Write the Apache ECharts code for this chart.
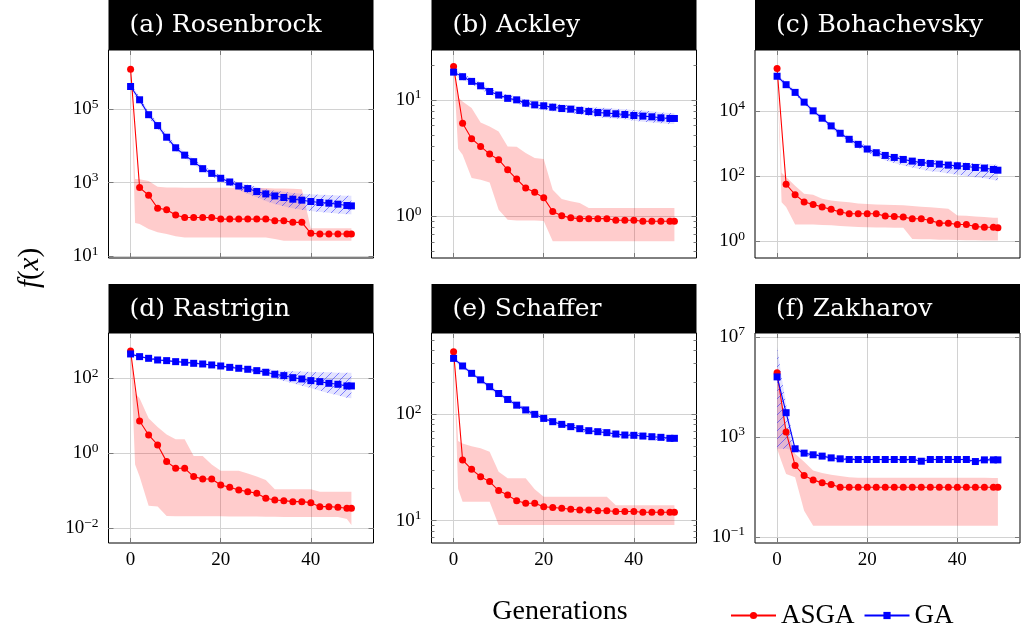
<!DOCTYPE html>
<html><head><meta charset="utf-8">
<script src="https://cdn.jsdelivr.net/npm/echarts@6/dist/echarts.min.js"></script>
<style>html,body{margin:0;padding:0;background:#fff}#c{width:1023px;height:630px}</style>
</head><body><div id="c"></div><script>
// ---------------- data ----------------
const generations = [0,2,4,6,8,10,12,14,16,18,20,22,24,26,28,30,32,34,36,38,40,42,44,46,48,49];
const bandGenerations = [0,1,2,4,6,8,10,12,14,16,18,20,22,24,26,28,30,32,34,36,38,40,42,44,46,48,49];
const xTickValues = [0,20,40];

// (a) Rosenbrock
const asgaRosenbrock = [1.2e6,733,454,202,182,131,113,113,113,112,102,102,102,102,102,102,91.6,91.6,83,83,41.9,40.1,40.1,40.1,40.1,40.1];
const gaRosenbrock = [4.08e5,1.78e5,7.0e4,3.54e4,1.71e4,8830,5570,3700,2390,1780,1310,1040,809,689,571,492,434,394,354,333,306,288,276,259,239,233];
const asgaLowRosenbrock = [1.2e6,79.4,74.6,54.7,44.7,39.8,34.7,32.4,32.4,32.4,32.4,32.4,32.4,32.4,32.4,32.4,32.4,29.3,26.3,26.3,26.3,26.3,26.3,26.3,26.3,26.3,26.3];
const asgaHighRosenbrock = [1.2e6,1260,1230,1100,776,741,741,724,724,724,724,724,724,724,708,708,708,692,692,676,661,57.5,57.5,57.5,57.5,57.5,57.5];
const gaLowRosenbrock = [3.31e5,2.24e5,1.48e5,5.89e4,2.95e4,1.45e4,7410,4680,3090,2000,1480,1070,832,631,501,398,316,263,229,200,182,170,158,151,145,138,138];
const gaHighRosenbrock = [5.0e5,3.16e5,2.14e5,8.5e4,4.27e4,2.04e4,1.07e4,6760,4470,2880,2140,1580,1260,1000,871,759,661,603,562,525,501,479,468,457,447,437,437];
const yTicksRosenbrock = [1e1,1e3,1e5];

// (b) Ackley
const asgaAckley = [19.3,6.3,4.63,3.98,3.42,3.06,2.51,2.09,1.75,1.61,1.44,1.10,1.01,0.97,0.955,0.955,0.955,0.955,0.925,0.925,0.925,0.906,0.906,0.906,0.906,0.906];
const gaAckley = [17.3,15.8,14.4,13.2,11.8,11.0,10.3,10.0,9.36,9.06,8.89,8.65,8.43,8.32,8.11,7.94,7.79,7.69,7.59,7.49,7.34,7.25,7.15,7.01,6.92,6.92];
const asgaLowAckley = [19.3,3.8,3.38,2.13,2.06,1.95,1.14,0.935,0.92,0.92,0.92,0.91,0.61,0.61,0.61,0.61,0.61,0.61,0.61,0.61,0.61,0.61,0.61,0.61,0.61,0.61,0.61];
const asgaHighAckley = [19.3,10.5,9.7,8.5,6.4,5.9,5.35,3.98,3.95,3.49,3.16,3.1,1.69,1.41,1.35,1.3,1.18,1.18,1.18,1.18,1.18,1.18,1.18,1.18,1.18,1.18,1.18];
const gaLowAckley = [16.4,15.7,14.9,13.6,12.4,11.1,10.4,9.7,9.4,8.7,8.4,8.2,8.0,7.8,7.7,7.5,7.3,7.1,7.0,6.9,6.8,6.6,6.5,6.4,6.3,6.2,6.2];
const gaHighAckley = [18.3,17.5,16.8,15.3,14.0,12.5,11.7,11.0,10.7,10.0,9.7,9.5,9.3,9.1,9.0,8.8,8.7,8.6,8.5,8.4,8.3,8.2,8.1,8.0,7.8,7.7,7.7];
const yTicksAckley = [1,10];

// (c) Bohachevsky
const asgaBohachevsky = [1.98e5,56,26.9,16,13.5,11.2,9.5,7.85,6.97,6.97,6.97,6.97,5.9,5.77,5.5,4.89,4.89,4.34,3.59,3.59,3.27,3.27,2.83,2.7,2.7,2.58];
const gaBohachevsky = [1.15e5,6.34e4,3.68e4,1.85e4,1.0e4,5940,3450,2050,1340,937,673,519,429,372,323,287,261,243,232,216,206,196,183,175,159,151];
const asgaLowBohachevsky = [1.98e5,15.8,11.2,3.27,3.27,3.27,3.16,3.09,2.95,2.82,2.75,2.7,2.66,2.63,2.6,2.58,1.18,1.16,1.15,1.12,1.11,1.1,1.08,1.07,1.06,1.05,1.05];
const asgaHighBohachevsky = [1.98e5,126,94.2,50.1,28.8,26.9,20,17.8,16.6,15.8,14.5,13.8,13.5,13.2,12.9,12.6,12.0,11.5,11.0,10.5,10.0,6.17,6.03,5.75,5.5,5.25,5.25];
const gaLowBohachevsky = [1.0e5,7.59e4,5.5e4,3.16e4,1.58e4,8510,5010,2880,1700,1100,741,525,398,302,251,209,182,158,141,132,120,110,100,91.2,85.1,75.9,72.4];
const gaHighBohachevsky = [1.32e5,1.0e5,7.41e4,4.27e4,2.14e4,1.15e4,6920,3980,2400,1580,1120,813,631,525,457,398,355,331,309,295,282,269,257,245,234,224,219];
const yTicksBohachevsky = [1,1e2,1e4];

// (d) Rastrigin
const asgaRastrigin = [536,7.28,3.08,1.67,0.6,0.398,0.398,0.239,0.207,0.207,0.143,0.124,0.105,0.095,0.0858,0.063,0.057,0.0547,0.0514,0.0514,0.0483,0.0378,0.0378,0.0363,0.0341,0.0341];
const gaRastrigin = [446,378,341,308,296,278,267,251,241,227,213,196,185,174,160,145,128,118,104,96,86.7,81.5,73.6,69.2,62.5,62.5];
const asgaLowRastrigin = [536,0.5,0.24,0.0398,0.038,0.0214,0.0209,0.0209,0.0209,0.0209,0.0209,0.0209,0.0205,0.0205,0.0205,0.0205,0.0204,0.0204,0.02,0.02,0.02,0.02,0.02,0.02,0.02,0.0178,0.0123];
const asgaHighRastrigin = [536,39.8,29.3,8.57,5.01,3.16,2.36,2.36,0.849,0.849,0.501,0.345,0.345,0.345,0.288,0.24,0.195,0.11,0.11,0.11,0.11,0.11,0.095,0.095,0.095,0.095,0.095];
const gaLowRastrigin = [407,380,355,316,288,275,263,251,234,224,209,200,182,170,158,141,120,100,85.1,74.1,63.1,55,46.8,39.8,35.5,30.2,29.5];
const gaHighRastrigin = [490,447,407,363,331,316,295,288,269,257,245,229,214,204,191,182,174,166,158,155,151,148,145,145,141,141,141];
const yTicksRastrigin = [1e-2,1,1e2];

// (e) Schaffer
const asgaSchaffer = [388,37.2,30.4,25.9,23.3,19.2,17.4,15.4,14.6,14.6,13.5,13.3,13.1,12.8,12.6,12.6,12.4,12.4,12.2,12.2,12.2,12.0,12.0,12.0,12.0,12.0];
const gaSchaffer = [336,285,243,211,182,157,138,122,110,100,91.6,85.3,80.5,76.6,73.3,70.2,68.7,67.3,65.3,63.9,63.5,62.5,61.6,60.8,59.5,59.5];
const asgaLowSchaffer = [388,20,15.1,15.1,15.1,15.1,9.1,9.1,9.1,9.1,9.1,9.1,9.1,9.1,9.1,9.1,9.1,9.1,9.1,9.1,9.1,9.1,9.1,9.1,9.1,9.1,9.1];
const asgaHighSchaffer = [388,56.2,53.3,50.1,47.9,44.6,28.8,25,25,25,19.7,16.8,16.8,16.8,16.8,16.8,16.8,16.8,16.8,14.0,14.0,14.0,14.0,14.0,14.0,14.0,14.0];
const gaLowSchaffer = [320,295,272,232,201,173,149,131,116,104,95,87,80.5,76,72,69,66,64.5,63,61,60,59.5,58.5,57.5,56.5,55.5,55.5];
const gaHighSchaffer = [352,325,298,254,221,191,165,145,128,116,105,96.5,90,85,81,77.5,74.5,73,71.5,69.5,68,67.5,66.5,65.5,65,63.5,63.5];
const yTicksSchaffer = [10,100];

// (f) Zakharov
const asgaZakharov = [3.59e5,1540,70.8,28.1,18.8,14.3,12.2,9.55,9.55,9.55,9.55,9.55,9.55,9.55,9.55,9.55,9.55,9.55,9.55,9.55,9.55,9.55,9.55,9.55,9.55,9.55];
const gaZakharov = [2.48e5,9180,330,221,190,168,143,131,123,123,123,123,123,123,123,123,105,123,123,123,123,123,102,119,119,119];
const asgaLowZakharov = [331,100,32.7,24,1.1,0.275,0.275,0.275,0.275,0.275,0.275,0.275,0.275,0.275,0.275,0.275,0.275,0.275,0.275,0.275,0.275,0.275,0.275,0.275,0.275,0.275,0.275];
const asgaHighZakharov = [3.98e5,2.51e4,2510,209,100,44.7,35.5,30.2,26.9,24,23,23,23,23,23,23,23,23,23,23,23,23,23,23,23,22.4,22.4];
const gaLowZakharov = [331,331,331,275,186,158,141,120,110,105,105,105,105,105,105,105,105,89.1,105,105,105,105,105,85.1,100,100,100];
const gaHighZakharov = [3.98e6,2.51e5,2.0e4,398,263,224,200,170,155,145,145,145,145,145,145,145,145,126,145,145,145,145,145,123,141,141,141];
const yTicksZakharov = [1e-1,1e3,1e7];

// ---------------- layout / style ----------------
const COL_LEFT = [108.5, 431.5, 755];
const PANEL_W = 265;
const ROW_TOP = [50, 333];
const ROW_H = [208, 210];
const TITLE_TOP = [0, 284];
const X_MIN = -4.9, X_MAX = 53.9;
const GRID_COLOR = '#d2d2d2', TICK_COLOR = '#7a7a7a';
const SERIF = 'Liberation Serif';

const panels = [
  {title:'(a) Rosenbrock', asga:asgaRosenbrock, ga:gaRosenbrock, asgaLo:asgaLowRosenbrock, asgaHi:asgaHighRosenbrock, gaLo:gaLowRosenbrock, gaHi:gaHighRosenbrock, ticks:yTicksRosenbrock, range:[0.951,6.603], minor:false},
  {title:'(b) Ackley', asga:asgaAckley, ga:gaAckley, asgaLo:asgaLowAckley, asgaHi:asgaHighAckley, gaLo:gaLowAckley, gaHi:gaHighAckley, ticks:yTicksAckley, range:[-0.358,1.428], minor:true},
  {title:'(c) Bohachevsky', asga:asgaBohachevsky, ga:gaBohachevsky, asgaLo:asgaLowBohachevsky, asgaHi:asgaHighBohachevsky, gaLo:gaLowBohachevsky, gaHi:gaHighBohachevsky, ticks:yTicksBohachevsky, range:[-0.514,5.866], minor:false},
  {title:'(d) Rastrigin', asga:asgaRastrigin, ga:gaRastrigin, asgaLo:asgaLowRastrigin, asgaHi:asgaHighRastrigin, gaLo:gaLowRastrigin, gaHi:gaHighRastrigin, ticks:yTicksRastrigin, range:[-2.392,3.208], minor:false},
  {title:'(e) Schaffer', asga:asgaSchaffer, ga:gaSchaffer, asgaLo:asgaLowSchaffer, asgaHi:asgaHighSchaffer, gaLo:gaLowSchaffer, gaHi:gaHighSchaffer, ticks:yTicksSchaffer, range:[0.79,2.765], minor:true},
  {title:'(f) Zakharov', asga:asgaZakharov, ga:gaZakharov, asgaLo:asgaLowZakharov, asgaHi:asgaHighZakharov, gaLo:gaLowZakharov, gaHi:gaHighZakharov, ticks:yTicksZakharov, range:[-1.25,7.15], minor:false}
];

// hatch pattern (north east lines)
const pc = document.createElement('canvas');
pc.width = 8; pc.height = 8;
const g2 = pc.getContext('2d');
g2.fillStyle = 'rgba(40,40,255,0.13)'; g2.fillRect(0,0,8,8);
g2.strokeStyle = 'rgba(40,40,255,0.55)'; g2.lineWidth = 1;
g2.beginPath(); g2.moveTo(0,8); g2.lineTo(8,0); g2.moveTo(-2,2); g2.lineTo(2,-2); g2.moveTo(6,10); g2.lineTo(10,6); g2.stroke();
const HATCH = {image: pc, repeat: 'repeat'};
const PINK = 'rgba(255,0,0,0.2)';

const L = Math.log10;
function expLabel(v){
  const e = Math.round(v);
  return '{b|10}{s|' + (e < 0 ? '\u2212' + (-e) : e) + '}';
}
function minorTicks(range){
  const out = [];
  for (let d = Math.floor(range[0]) - 1; d <= Math.ceil(range[1]); d++) {
    for (let k = 2; k <= 9; k++) { const v = d + L(k); if (v > range[0] && v < range[1]) out.push(v); }
  }
  return out;
}
function bandSeries(name, xi, yi, lo, hi, fill){
  return {
    type:'custom', name:name, xAxisIndex:xi, yAxisIndex:yi, silent:true,
    data: bandGenerations.map((x,k)=>[x, L(lo[k]), L(hi[k])]),
    encode:{x:0, y:[1,2]},
    renderItem: function(params, api){
      if (params.dataIndex !== 0) return null;
      const pts = [];
      for (let k = 0; k < bandGenerations.length; k++) pts.push(api.coord([bandGenerations[k], L(hi[k])]));
      for (let k = bandGenerations.length - 1; k >= 0; k--) pts.push(api.coord([bandGenerations[k], L(lo[k])]));
      return {type:'polygon', shape:{points:pts}, style:{fill:fill, stroke:null}};
    }
  };
}

const grids = [], xAxes = [], yAxes = [], series = [], graphics = [];
panels.forEach((p, i) => {
  const row = Math.floor(i / 3), col = i % 3;
  const left = COL_LEFT[col], top = ROW_TOP[row], h = ROW_H[row];
  grids.push({left:left, top:top, width:PANEL_W, height:h, show:true, borderColor:'#000', borderWidth:1, backgroundColor:'transparent', containLabel:false, outerBoundsMode:'none'});
  const tickStyle = {color:TICK_COLOR, width:1};
  const xi = xAxes.length;
  xAxes.push({gridIndex:i, type:'value', min:X_MIN, max:X_MAX, position:'bottom',
    axisLine:{show:false, onZero:false},
    axisTick:{show:true, inside:true, length:5, lineStyle:tickStyle, customValues:xTickValues},
    axisLabel:{show: row === 1, customValues:xTickValues, margin:8, color:'#000', fontFamily:SERIF, fontSize:19},
    splitLine:{show:true, lineStyle:{color:GRID_COLOR, width:1}}});
  xAxes.push({gridIndex:i, type:'value', min:X_MIN, max:X_MAX, position:'top',
    axisLine:{show:false, onZero:false},
    axisTick:{show:true, inside:true, length:5, lineStyle:tickStyle, customValues:xTickValues},
    axisLabel:{show:false}, splitLine:{show:false}});
  const majors = p.ticks.map(L);
  const yi = yAxes.length;
  yAxes.push({gridIndex:i, type:'value', min:p.range[0], max:p.range[1], position:'left',
    axisLine:{show:false, onZero:false},
    axisTick:{show:true, inside:true, length:5, lineStyle:tickStyle, customValues:majors},
    axisLabel:{show:true, customValues:majors, margin:10, formatter:expLabel,
      rich:{b:{fontFamily:SERIF, fontSize:19, color:'#000'}, s:{fontFamily:SERIF, fontSize:13.5, color:'#000', padding:[0,0,10,0]}}},
    splitLine:{show:true, lineStyle:{color:GRID_COLOR, width:1}}});
  yAxes.push({gridIndex:i, type:'value', min:p.range[0], max:p.range[1], position:'right',
    axisLine:{show:false, onZero:false},
    axisTick:{show:true, inside:true, length:5, lineStyle:tickStyle, customValues:majors},
    axisLabel:{show:false}, splitLine:{show:false}});
  if (p.minor) {
    const mins = minorTicks(p.range);
    ['left','right'].forEach(pos => yAxes.push({gridIndex:i, type:'value', min:p.range[0], max:p.range[1], position:pos,
      axisLine:{show:false, onZero:false},
      axisTick:{show:true, inside:true, length:3, lineStyle:tickStyle, customValues:mins},
      axisLabel:{show:false}, splitLine:{show:false}}));
  }
  series.push(bandSeries('ASGA range', xi, yi, p.asgaLo, p.asgaHi, PINK));
  series.push({type:'line', name:'ASGA', xAxisIndex:xi, yAxisIndex:yi, silent:true,
    data: generations.map((x,k)=>[x, L(p.asga[k])]),
    symbol:'circle', symbolSize:7, showSymbol:true, showAllSymbol:true,
    lineStyle:{color:'#ff0000', width:1.1}, itemStyle:{color:'#ff0000'}});
  series.push(bandSeries('GA range', xi, yi, p.gaLo, p.gaHi, HATCH));
  series.push({type:'line', name:'GA', xAxisIndex:xi, yAxisIndex:yi, silent:true,
    data: generations.map((x,k)=>[x, L(p.ga[k])]),
    symbol:'rect', symbolSize:7, showSymbol:true, showAllSymbol:true,
    lineStyle:{color:'#0000ff', width:1.1}, itemStyle:{color:'#0000ff'}});
  // title box
  graphics.push({type:'rect', silent:true, z:10, shape:{x:left, y:TITLE_TOP[row], width:PANEL_W, height:top - TITLE_TOP[row]}, style:{fill:'#000'}});
  graphics.push({type:'text', silent:true, z:11, x:left + 21, y:TITLE_TOP[row] + 25,
    style:{text:p.title, fill:'#fff', fontFamily:'DejaVu Serif', fontSize:25, align:'left', verticalAlign:'middle'}});
});

graphics.push({type:'text', silent:true, x:560, y:612,
  style:{text:'Generations', fill:'#000', fontFamily:SERIF, fontSize:28, align:'center', verticalAlign:'middle'}});
graphics.push({type:'text', silent:true, x:30, y:268, rotation:Math.PI/2,
  style:{text:'{i|f}{n|(}{i|x}{n|)}', align:'center', verticalAlign:'middle',
    rich:{i:{fontFamily:SERIF, fontStyle:'italic', fontSize:29, fill:'#000'}, n:{fontFamily:SERIF, fontSize:29, fill:'#000'}}}});

const chart = echarts.init(document.getElementById('c'), null, {renderer:'canvas'});
chart.setOption({
  animation:false,
  backgroundColor:'#fff',
  grid:grids, xAxis:xAxes, yAxis:yAxes, series:series,
  legend:{data:['ASGA','GA'], left:725, top:597, itemWidth:45, itemHeight:9, itemGap:9,
    textStyle:{fontFamily:SERIF, fontSize:27, color:'#000'}},
  graphic:graphics
});
</script></body></html>
